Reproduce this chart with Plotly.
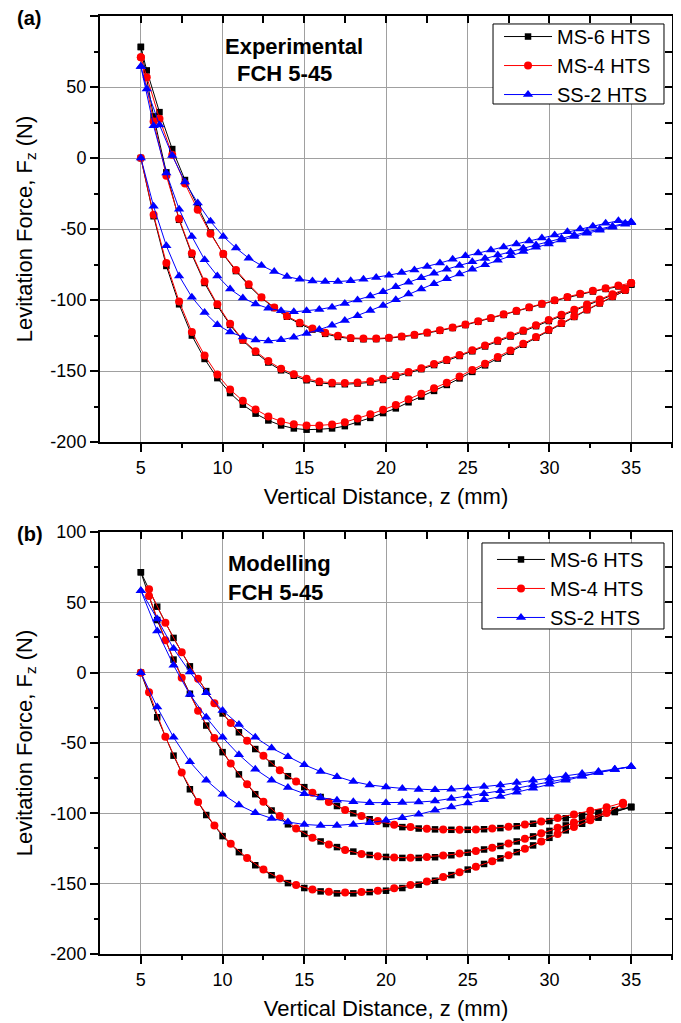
import plotly.graph_objects as go

# ---------------- (a) Experimental, FCH 5-45 ----------------
# z positions: first/second approach (5 -> 35) and return (35 -> 5)
z_up_a = [5.0, 5.78, 6.56, 7.34, 8.12, 8.9, 9.68, 10.46, 11.24, 12.02, 12.8, 13.58, 14.36,
          15.14, 15.92, 16.7, 17.48, 18.26, 19.04, 19.82, 20.6, 21.38, 22.16, 22.94, 23.72,
          24.5, 25.28, 26.06, 26.84, 27.62, 28.4, 29.18, 29.96, 30.74, 31.52, 32.3, 33.08,
          33.86, 34.64, 35.0]
z_down_a = [35.0, 34.22, 33.44, 32.66, 31.88, 31.1, 30.32, 29.54, 28.76, 27.98, 27.2, 26.42,
            25.64, 24.86, 24.08, 23.3, 22.52, 21.74, 20.96, 20.18, 19.4, 18.62, 17.84, 17.06,
            16.28, 15.5, 14.72, 13.94, 13.16, 12.38, 11.6, 10.82, 10.04, 9.26, 8.48, 7.7,
            6.92, 6.14, 5.36, 5.0]

ms6_up1_a = [0, -41, -76, -103, -125, -141.5, -155, -165.5, -173.7, -180, -184.8, -188.3,
             -190.4, -191.3, -191, -190.4, -188.8, -186, -183, -179.6, -176.3, -172, -168,
             -164, -159.8, -155.2, -150.6, -146, -141.2, -136.4, -131.5, -126.5, -121.5,
             -116.7, -111.9, -107.1, -102.4, -97.8, -93.4, -89]
ms6_down_a = [-89, -90.4, -92.2, -94, -96, -98.2, -100.5, -103, -105.5, -108, -110.5, -113,
              -115.3, -117.6, -119.7, -121.6, -123.3, -124.8, -126, -126.9, -127.5, -127.6,
              -127.2, -126, -123.8, -120.8, -116.8, -111.8, -105.6, -98.5, -89.8, -79.6,
              -67.8, -52.5, -34, -15.5, 6.3, 32.3, 61.7, 78.2]
ms6_up2_a = [78.2, 29.3, -10.1, -43.5, -68, -88, -104, -117.5, -128.5, -137, -144, -149.5,
             -153.3, -156.5, -158.3, -159.2, -159.3, -158.8, -158, -156.3, -154, -151.4,
             -148.7, -145.8, -142.7, -139.4, -136.1, -132.7, -129.2, -125.7, -122.1, -118.4,
             -114.8, -111.1, -107.4, -103.8, -100.2, -96.6, -92.8, -89]

ms4_up1_a = [0, -40, -74, -101, -122.5, -139, -152.5, -163, -171, -177, -182, -185.5, -187.5,
             -188.3, -188.3, -187.6, -186, -183.5, -180.5, -177.2, -174, -169.8, -166,
             -162.2, -158.2, -153.8, -149.3, -144.8, -140.2, -135.5, -130.8, -126, -121,
             -116.2, -111.5, -106.7, -102, -97.4, -93, -88]
ms4_down_a = [-88, -89.8, -91.7, -93.5, -95.6, -97.8, -100.1, -102.6, -105.1, -107.6, -110.1,
              -112.6, -114.9, -117.2, -119.3, -121.2, -122.9, -124.4, -125.6, -126.5, -127.1,
              -127.1, -126.7, -125.2, -123.1, -120, -116, -111.3, -105.2, -98.1, -88.9,
              -78.8, -67.5, -53.3, -36.4, -18, 2.3, 27.7, 56.8, 70.9]
ms4_up2_a = [70.9, 25.7, -12.5, -42.7, -67, -87, -103, -116.7, -128, -136, -143, -148.4,
             -152.3, -155.5, -157.4, -158.3, -158.5, -158, -157.2, -155.5, -153.2, -150.6,
             -148, -145, -142, -138.7, -135.4, -132, -128.5, -125, -121.4, -117.7, -114,
             -110.4, -106.8, -103.2, -99.6, -96, -92.2, -88]

ss2_up1_a = [0, -34, -61.8, -83, -98, -108.7, -117.4, -122.6, -126, -128.2, -128.8, -128,
             -126.2, -123.6, -120.8, -117.8, -114.5, -111, -107.4, -103.8, -99.8, -95.8,
             -92.2, -88.5, -85, -81.7, -78.4, -75.2, -72, -68.9, -65.8, -62.9, -60.5, -57.8,
             -55.3, -53, -50.8, -48.7, -46.7, -45.5]
ss2_down_a = [-45, -44.2, -46, -48, -50, -52, -54.2, -56.3, -58.4, -60.5, -62.6, -64.7, -66.8,
              -68.9, -71.3, -74, -76.4, -78.8, -80.7, -82.5, -84.2, -85.4, -86.4, -87, -87,
              -86.6, -85.4, -83.5, -80, -75.7, -70.5, -63.4, -55.2, -44.6, -31.7, -16.9, 1.8,
              23.3, 48.6, 64.5]
ss2_up2_a = [64.5, 22.7, -10.6, -36, -55.2, -71.6, -83, -92.3, -98.5, -102.8, -105.8, -107.5,
             -108.3, -107.5, -106.6, -105, -102.4, -100, -97.2, -94.1, -90.6, -87.5, -84.3,
             -81.2, -78.3, -75.6, -73.1, -70.7, -68.3, -66, -63.6, -61.2, -58.8, -56.5, -54.2,
             -52, -50, -48, -46, -45]

# ---------------- (b) Modelling, FCH 5-45 ----------------
z_b = [5, 6, 7, 8, 9, 10, 11, 12, 13, 14, 15, 16, 17, 18, 19, 20, 21, 22, 23, 24, 25, 26,
       27, 28, 29, 30, 31, 32, 33, 34, 35]
z_b_half = [5.5, 6.5, 7.5, 8.5, 9.5, 10.5, 11.5, 12.5, 13.5, 14.5, 15.5, 16.5, 17.5, 18.5,
            19.5, 20.5, 21.5, 22.5, 23.5, 24.5, 25.5, 26.5, 27.5, 28.5, 29.5, 30.5, 31.5,
            32.5, 33.5, 34.5]

ms6_up1_b = [0, -31.7, -59, -82.9, -101.2, -116.2, -127.6, -136.9, -144, -149.6, -153.1,
             -155.5, -156.9, -156.9, -156, -155, -153.1, -150.7, -147.9, -143.9, -140, -136,
             -132, -127.6, -122.8, -117.4, -112.1, -107.4, -103.1, -99.1, -95.5]
ms6_down_b = [-95.5, -97.7, -99.3, -101.4, -103.5, -105.5, -107.4, -109.2, -110.5, -111.3,
              -111.7, -111.7, -111.4, -110.8, -109.8, -107.6, -104.2, -100, -94.8, -88.4,
              -81.4, -73.6, -64.6, -54.3, -42.4, -29, -13.1, 4.5, 24.7, 46.9, 71.4]
ms6_up2_b = [71.4, 37.4, 9.3, -15, -37.6, -56.5, -72.3, -86.4, -98, -107.8, -114.6, -120,
             -124, -127.2, -129.6, -131, -131.7, -131.7, -131.2, -129.8, -128, -125.7,
             -123.2, -120, -116.4, -112.5, -108.6, -105, -101.8, -98.5, -95.5]

ms4_up1_b = [0, -14, -45.5, -71, -91.9, -108.6, -121.7, -131.7, -140, -146.4, -151, -154.2,
             -155.8, -156.3, -156, -155, -153.2, -151, -148.5, -145.3, -141.8, -138, -134,
             -129.8, -125.2, -120, -114.7, -109.8, -105, -99.8, -93]
ms4_down_b = [-92.4, -95.7, -98.2, -100.8, -103.4, -105.8, -108, -109.6, -110.8, -111.5,
              -111.7, -111.5, -111, -109.8, -108.2, -105.5, -101.9, -97.6, -91.9, -85.3,
              -77.4, -69.3, -59.1, -48.4, -35.7, -21.7, -4.3, 14.5, 35.4, 59.3]
ms4_up2_b = [54.5, 23.1, -3.6, -27, -46.4, -64.6, -79.3, -91.7, -101.9, -110.7, -117.4,
             -122.2, -126, -129, -130.6, -131.4, -131.5, -131, -130, -128.6, -126.8, -124.4,
             -121.5, -118, -114.2, -110.3, -106.6, -103, -99.3, -93.5]

ss2_up1_b = [0, -24.5, -46, -63.4, -76.4, -86.4, -94.1, -99.6, -103.6, -106.2, -107.9,
             -108.6, -108.6, -107.9, -106.7, -105, -103.1, -100.7, -97.9, -95.5, -92.6, -90.4,
             -88, -85, -82.1, -79.3, -76.4, -73.6, -71, -68.8, -66.9]
ss2_down_b = [-66.7, -68.6, -70.3, -71.7, -73.4, -75, -76.4, -78.1, -79.8, -81, -82.1, -82.9,
              -83.3, -83, -82.3, -81.2, -79.8, -77.4, -74, -70.3, -65.5, -59.8, -53.6, -46,
              -36.9, -26.9, -14.3, 0.4, 17.1, 38.2, 58.3]
ss2_up2_b = [58.3, 29.7, 5.2, -15.5, -31.7, -46, -58.3, -68.6, -76.4, -81.7, -86, -88.8,
             -90.7, -91.7, -92.4, -92.4, -92.3, -92, -91.2, -89.5, -87.6, -86, -84, -82.1,
             -79.8, -77.4, -75.5, -73.4, -71, -68.8, -66.9]

series_names = ["MS-6 HTS", "MS-4 HTS", "SS-2 HTS"]
x_ticks = [5, 10, 15, 20, 25, 30, 35]
y_ticks = [-200, -150, -100, -50, 0, 50, 100]
y_tick_text = ["-200", "-150", "-100", "-50", "0", "50", "100"]

colors = ["#000000", "#ff0000", "#0000ff"]
symbols = ["square", "circle", "triangle-up"]
sizes = [6.5, 8, 9]

FONT = "Liberation Sans, Arial, sans-serif"

# one path per series: approach -> return -> approach again
paths_a = [
    (z_up_a + z_down_a + z_up_a, ms6_up1_a + ms6_down_a + ms6_up2_a),
    (z_up_a + z_down_a + z_up_a, ms4_up1_a + ms4_down_a + ms4_up2_a),
    (z_up_a + z_down_a + z_up_a, ss2_up1_a + ss2_down_a + ss2_up2_a),
]
z_b_down = z_b[::-1]
z_b_half_down = z_b_half[::-1]
paths_b = [
    (z_b + z_b_down + z_b, ms6_up1_b + ms6_down_b + ms6_up2_b),
    ([5.0] + z_b_half + z_b_half_down + z_b_half, ms4_up1_b + ms4_down_b + ms4_up2_b),
    (z_b + z_b_down + z_b, ss2_up1_b + ss2_down_b + ss2_up2_b),
]

fig = go.Figure()

for i in range(3):
    fig.add_trace(go.Scatter(
        x=paths_a[i][0], y=paths_a[i][1], mode="lines+markers",
        name=series_names[i], legend="legend",
        line=dict(color=colors[i], width=1),
        marker=dict(symbol=symbols[i], size=sizes[i], color=colors[i]),
        xaxis="x", yaxis="y",
    ))
for i in range(3):
    fig.add_trace(go.Scatter(
        x=paths_b[i][0], y=paths_b[i][1], mode="lines+markers",
        name=series_names[i], legend="legend2",
        line=dict(color=colors[i], width=1),
        marker=dict(symbol=symbols[i], size=sizes[i], color=colors[i]),
        xaxis="x2", yaxis="y2",
    ))

# empty traces so the mirrored (top/right, inward-tick) axes get drawn
for xa, ya in [("x3", "y3"), ("x4", "y4")]:
    fig.add_trace(go.Scatter(x=[], y=[], xaxis=xa, yaxis=ya, showlegend=False,
                             hoverinfo="skip"))

x_range = [2.5, 37.5]
y_range = [-200, 100]
top_dom = [0.5458, 1.0]
bot_dom = [0.0, 0.4499]

xax = dict(
    range=x_range, tickmode="array", tickvals=x_ticks, automargin=False,
    showgrid=True, gridcolor="#a0a0a0", gridwidth=1, zeroline=False,
    showline=True, linecolor="black", linewidth=2,
    ticks="outside", ticklen=8, tickwidth=1.5, tickcolor="black",
    minor=dict(ticks="outside", ticklen=4, tickwidth=1.5, tickcolor="black",
               tickmode="array", tickvals=[7.5, 12.5, 17.5, 22.5, 27.5, 32.5, 37.5],
               showgrid=False),
    tickfont=dict(family=FONT, size=18, color="black"),
    title=dict(text="Vertical Distance, z (mm)", standoff=12,
               font=dict(family=FONT, size=22, color="black")),
)
yax = dict(
    range=y_range, tickmode="array", tickvals=y_ticks, ticktext=y_tick_text,
    automargin=False,
    showgrid=True, gridcolor="#a0a0a0", gridwidth=1, zeroline=False,
    showline=True, linecolor="black", linewidth=2,
    ticks="outside", ticklen=8, tickwidth=1.5, tickcolor="black",
    minor=dict(ticks="outside", ticklen=4, tickwidth=1.5, tickcolor="black",
               tickmode="array", tickvals=[-175, -125, -75, -25, 25, 75],
               showgrid=False),
    tickfont=dict(family=FONT, size=18, color="black"),
    title=dict(text="Levitation Force, F<sub>z</sub> (N)", standoff=12,
               font=dict(family=FONT, size=22, color="black")),
)
x_mirror = dict(range=x_range, side="top", showticklabels=False, showgrid=False,
                zeroline=False, showline=True, linecolor="black", linewidth=2,
                ticks="inside", ticklen=7, tickwidth=1.5, tickcolor="black",
                tick0=2.5, dtick=2.5, automargin=False)
y_mirror = dict(range=y_range, side="right", showticklabels=False, showgrid=False,
                zeroline=False, showline=True, linecolor="black", linewidth=2,
                ticks="inside", ticklen=7, tickwidth=1.5, tickcolor="black",
                tick0=0, dtick=25, automargin=False)

# legend boxes are drawn as shapes so their size can follow the reference
legend_style = dict(
    xanchor="left", yanchor="top", bgcolor="rgba(0,0,0,0)", borderwidth=0,
    font=dict(family=FONT, size=20, color="black"),
    tracegroupgap=0, itemwidth=48,
)

# the page adds an 8 px body margin, so the figure is 8 px smaller on each axis
fig.update_layout(
    width=673, height=1015,
    margin=dict(l=92, r=9, t=8, b=69, autoexpand=False),
    paper_bgcolor="white", plot_bgcolor="white",
    font=dict(family=FONT, color="black"),
    xaxis=dict(xax, anchor="y", domain=[0, 1]),
    yaxis=dict(yax, anchor="x", domain=top_dom),
    xaxis2=dict(xax, anchor="y2", domain=[0, 1]),
    yaxis2=dict(yax, anchor="x2", domain=bot_dom),
    xaxis3=dict(x_mirror, overlaying="x", anchor="y"),
    yaxis3=dict(y_mirror, overlaying="y", anchor="x"),
    xaxis4=dict(x_mirror, overlaying="x2", anchor="y2"),
    yaxis4=dict(y_mirror, overlaying="y2", anchor="x2"),
    legend=dict(legend_style, x=0.6976, y=0.9989),
    legend2=dict(legend_style, x=0.6853, y=0.4414),
    showlegend=True,
)

for x0, x1, y0, y1 in [(0.6871, 0.986, 0.9062, 0.9915), (0.6678, 0.986, 0.3465, 0.4382)]:
    fig.add_shape(type="rect", xref="paper", yref="paper", x0=x0, x1=x1, y0=y0, y1=y1,
                  fillcolor="white", line=dict(color="black", width=1), layer="above")

bold = dict(family=FONT, size=22, color="black")
notes = [
    ("<b>(a)</b>", -0.124, 0.9984, "center", dict(family=FONT, size=20, color="black")),
    ("<b>(b)</b>", -0.122, 0.4478, "center", dict(family=FONT, size=20, color="black")),
    ("<b>Experimental</b>", 0.3383, 0.9675, "center", bold),
    ("<b>FCH 5-45</b>", 0.3226, 0.9382, "center", bold),
    ("<b>Modelling</b>", 0.2203, 0.4168, "left", bold),
    ("<b>FCH 5-45</b>", 0.2203, 0.3854, "left", bold),
]
for text, x, y, anchor, font in notes:
    fig.add_annotation(text=text, x=x, y=y, xref="paper", yref="paper",
                       xanchor=anchor, yanchor="middle", showarrow=False, font=font)

fig.write_html("out.html")
